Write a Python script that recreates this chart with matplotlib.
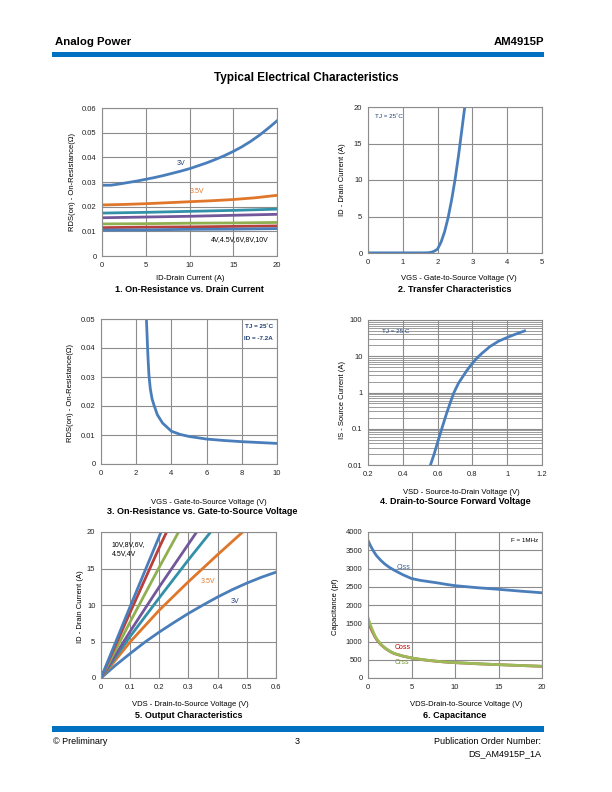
import numpy as np
import matplotlib
matplotlib.use("Agg")
import matplotlib.pyplot as plt
from matplotlib.ticker import LogLocator, NullFormatter, FixedLocator

plt.rcParams['font.family'] = ['Liberation Sans', 'DejaVu Sans']

# ---- colours (Excel 2007 style palette) ----
BLUE = '#4a7ebb'
RED = '#b8403c'
GREEN = '#8fb050'
PURPLE = '#72589a'
TEAL = '#3291a8'
ORANGE = '#e0762a'
NAVY = '#1f3f75'
GRID = '#8c8c8c'
BAR = '#0070c0'

# ---- 1. On-Resistance vs. Drain Current ----
id1 = [0, 1, 2, 3, 4, 5, 6, 7, 8, 9, 10, 11, 12, 13, 14, 15, 16, 17, 18, 19, 20]
rds_3v = [0.0287, 0.0287, 0.0292, 0.0298, 0.0304, 0.0311, 0.0318, 0.0326, 0.0335, 0.0344, 0.0354,
          0.0366, 0.0378, 0.0392, 0.0407, 0.0424, 0.0443, 0.0465, 0.0490, 0.0518, 0.0548]
id1_35 = [0, 2.5, 5, 7.5, 10, 12.5, 15, 17.5, 20]
rds_35v = [0.0207, 0.0209, 0.0212, 0.0216, 0.0220, 0.0224, 0.0229, 0.0236, 0.0246]
id1_flat = [0, 5, 10, 15, 20]
rds_4v = [0.0174, 0.0177, 0.0181, 0.0185, 0.0190]
rds_45v = [0.0155, 0.0158, 0.0161, 0.0165, 0.0169]
rds_6v = [0.0130, 0.0131, 0.0133, 0.0134, 0.0136]
rds_8v = [0.0115, 0.0117, 0.0118, 0.0120, 0.0122]
rds_10v = [0.0105, 0.0106, 0.0108, 0.0109, 0.0111]

# ---- 2. Transfer Characteristics ----
vgs2 = [0, 1.0, 1.5, 1.7, 1.8, 1.85, 1.9, 1.95, 2.0, 2.1, 2.2, 2.3, 2.4, 2.5, 2.6, 2.7, 2.78]
id2 = [0.02, 0.02, 0.02, 0.03, 0.08, 0.15, 0.25, 0.38, 0.55, 1.5, 2.9, 4.8, 7.2, 10.0, 13.3, 17.0, 20.0]

# ---- 3. On-Resistance vs. Gate-to-Source Voltage ----
vgs3 = [2.58, 2.62, 2.66, 2.72, 2.8, 2.9, 3.0, 3.2, 3.5, 4.0, 4.5, 5, 6, 7, 8, 9, 10]
rds3 = [0.050, 0.044, 0.038, 0.031, 0.026, 0.0225, 0.0205, 0.0170, 0.0141, 0.0113, 0.0102,
        0.0095, 0.0086, 0.0081, 0.0077, 0.0074, 0.0071]

# ---- 4. Drain-to-Source Forward Voltage ----
vsd4 = [0.559, 0.58, 0.6, 0.624, 0.65, 0.67, 0.694, 0.72, 0.75, 0.775, 0.8, 0.825, 0.85,
        0.9, 0.95, 1.0, 1.05, 1.1]
is4 = [0.01, 0.02, 0.042, 0.1, 0.25, 0.48, 1.0, 1.8, 3.0, 4.5, 6.4, 8.8, 11.5,
       18.4, 26, 33, 41, 50]

# ---- 5. Output Characteristics ----
vds5 = [0, 0.05, 0.1, 0.15, 0.2, 0.25, 0.3, 0.35, 0.4, 0.45, 0.5, 0.55, 0.6]
id5_3v = [0, 1.75, 3.35, 4.9, 6.3, 7.6, 8.85, 10.0, 11.1, 12.1, 13.0, 13.8, 14.5]
vds5_35 = [0, 0.1, 0.2, 0.3, 0.4, 0.486]
id5_35v = [0, 4.95, 9.3, 13.2, 16.9, 20.0]
vds5_4v = [0, 0.1, 0.2, 0.3, 0.376]
id5_4v = [0, 5.7, 11.0, 16.2, 20.0]
vds5_45v = [0, 0.1, 0.2, 0.328]
id5_45v = [0, 6.4, 12.5, 20.0]
vds5_6v = [0, 0.1, 0.2, 0.266]
id5_6v = [0, 7.7, 15.2, 20.0]
vds5_8v = [0, 0.1, 0.2, 0.225]
id5_8v = [0, 9.0, 17.9, 20.0]
vds5_10v = [0, 0.1, 0.206]
id5_10v = [0, 9.8, 20.0]

# ---- 6. Capacitance ----
vds6 = [0, 0.25, 0.5, 0.75, 1, 1.5, 2, 2.5, 3, 4, 5, 6, 7, 8, 9, 10, 12.5, 15, 17.5, 20]
ciss = [3770, 3640, 3530, 3430, 3345, 3215, 3110, 3025, 2955, 2830, 2725, 2675, 2640, 2605,
        2565, 2530, 2475, 2430, 2380, 2335]
coss = [1550, 1400, 1270, 1150, 1050, 910, 810, 730, 670, 600, 548, 510, 480, 455,
        435, 420, 390, 365, 342, 320]
crss = [1650, 1470, 1320, 1180, 1070, 920, 815, 735, 673, 603, 550, 512, 482, 457,
        437, 422, 392, 366, 343, 322]

W, H = 612, 792
fig = plt.figure(figsize=(W / 100, H / 100), dpi=100)


def ax_at(x0, y0, x1, y1):
    return fig.add_axes([x0 / W, 1 - y1 / H, (x1 - x0) / W, (y1 - y0) / H])


def ftext(x, y, s, **kw):
    fig.text(x / W, 1 - y / H, s, **kw)


def style(ax):
    ax.grid(True, color=GRID, lw=0.8)
    ax.set_axisbelow(True)
    for sp in ax.spines.values():
        sp.set_color(GRID)
        sp.set_linewidth(0.8)
    ax.tick_params(length=0, labelsize=5.5, pad=4, colors='#222222')


LW = 2.0

# chart 1
ax = ax_at(102, 108, 277, 256)
style(ax)
ax.plot(id1, rds_3v, color=BLUE, lw=LW)
ax.plot(id1_35, rds_35v, color=ORANGE, lw=LW)
ax.plot(id1_flat, rds_4v, color=TEAL, lw=LW)
ax.plot(id1_flat, rds_45v, color=PURPLE, lw=LW)
ax.plot(id1_flat, rds_6v, color=GREEN, lw=LW)
ax.plot(id1_flat, rds_8v, color=RED, lw=LW)
ax.plot(id1_flat, rds_10v, color=BLUE, lw=LW)
ax.set_xlim(0, 20)
ax.set_ylim(0, 0.06)
ax.set_xticks([0, 5, 10, 15, 20])
ax.set_yticks([0, 0.01, 0.02, 0.03, 0.04, 0.05, 0.06])
ax.set_yticklabels(['0', '0.01', '0.02', '0.03', '0.04', '0.05', '0.06'])
ax.text(9.0, 0.0374, '3V', color=NAVY, fontsize=5, ha='center', va='center')
ax.text(10.9, 0.026, '3.5V', color=ORANGE, fontsize=5, ha='center', va='center')
ax.text(15.8, 0.0068, '4V,4.5V,6V,8V,10V', color='black', fontsize=5, ha='center', va='center')
ftext(72, 182, 'RDS(on) - On-Resistance(Ω)', rotation=90, fontsize=5.5, ha='center', va='center')
ftext(190, 278, 'ID-Drain Current (A)', fontsize=5.5, ha='center', va='center')
ftext(189, 290, '1. On-Resistance vs. Drain Current', fontsize=6.5, weight='bold', ha='center', va='center')

# chart 2
ax = ax_at(368, 107, 542, 253)
style(ax)
ax.plot(vgs2, id2, color=BLUE, lw=LW)
ax.set_xlim(0, 5)
ax.set_ylim(0, 20)
ax.set_xticks([0, 1, 2, 3, 4, 5])
ax.set_yticks([0, 5, 10, 15, 20])
ax.text(0.21, 18.7, 'TJ = 25˚C', color=NAVY, fontsize=4.5, va='center')
ftext(342, 180, 'ID - Drain Current (A)', rotation=90, fontsize=5.5, ha='center', va='center')
ftext(459, 279, 'VGS - Gate-to-Source Voltage (V)', fontsize=5.5, ha='center', va='center')
ftext(455, 290, '2. Transfer Characteristics', fontsize=6.5, weight='bold', ha='center', va='center')

# chart 3
ax = ax_at(101, 319, 277, 464)
style(ax)
ax.plot(vgs3, rds3, color=BLUE, lw=LW)
ax.set_xlim(0, 10)
ax.set_ylim(0, 0.05)
ax.set_xticks([0, 2, 4, 6, 8, 10])
ax.set_yticks([0, 0.01, 0.02, 0.03, 0.04, 0.05])
ax.set_yticklabels(['0', '0.01', '0.02', '0.03', '0.04', '0.05'])
ax.text(0.978, 0.945, 'TJ = 25˚C', color=NAVY, fontsize=4.5, weight='bold',
        ha='right', va='center', transform=ax.transAxes)
ax.text(0.978, 0.867, 'ID = -7.2A', color=NAVY, fontsize=4.5, weight='bold',
        ha='right', va='center', transform=ax.transAxes)
ftext(71, 393, 'RDS(on) - On-Resistance(Ω)', rotation=90, fontsize=5.5, ha='center', va='center')
ftext(209, 502, 'VGS - Gate-to-Source Voltage (V)', fontsize=5.5, ha='center', va='center')
ftext(202, 511, '3. On-Resistance vs. Gate-to-Source Voltage', fontsize=6.5, weight='bold',
      ha='center', va='center')

# chart 4
ax = ax_at(368, 320, 542, 465)
ax.set_yscale('log')
style(ax)
ax.yaxis.set_minor_locator(LogLocator(base=10, subs=np.arange(2, 10)))
ax.yaxis.set_minor_formatter(NullFormatter())
ax.grid(True, which='minor', axis='y', color=GRID, lw=0.6)
ax.tick_params(which='minor', length=0)
ax.plot(vsd4, is4, color=BLUE, lw=LW)
ax.set_xlim(0.2, 1.2)
ax.set_ylim(0.01, 100)
ax.xaxis.set_major_locator(FixedLocator([0.2, 0.4, 0.6, 0.8, 1.0, 1.2]))
ax.set_xticklabels(['0.2', '0.4', '0.6', '0.8', '1', '1.2'])
ax.set_yticks([0.01, 0.1, 1, 10, 100])
ax.set_yticklabels(['0.01', '0.1', '1', '10', '100'])
ax.text(0.28, 47, 'TJ = 25 C', color=NAVY, fontsize=4.5, va='center')
ftext(342, 400, 'IS - Source Current (A)', rotation=90, fontsize=5.5, ha='center', va='center')
ftext(461, 492, 'VSD - Source-to-Drain Voltage (V)', fontsize=5.5, ha='center', va='center')
ftext(455, 502, '4. Drain-to-Source Forward Voltage', fontsize=6.5, weight='bold', ha='center', va='center')

# chart 5
ax = ax_at(101, 532, 276, 678)
style(ax)
ax.plot(vds5, id5_3v, color=BLUE, lw=LW)
ax.plot(vds5_35, id5_35v, color=ORANGE, lw=LW)
ax.plot(vds5_4v, id5_4v, color=TEAL, lw=LW)
ax.plot(vds5_45v, id5_45v, color=PURPLE, lw=LW)
ax.plot(vds5_6v, id5_6v, color=GREEN, lw=LW)
ax.plot(vds5_8v, id5_8v, color=RED, lw=LW)
ax.plot(vds5_10v, id5_10v, color=BLUE, lw=LW)
ax.set_xlim(0, 0.6)
ax.set_ylim(0, 20)
ax.set_xticks([0, 0.1, 0.2, 0.3, 0.4, 0.5, 0.6])
ax.set_xticklabels(['0', '0.1', '0.2', '0.3', '0.4', '0.5', '0.6'])
ax.set_yticks([0, 5, 10, 15, 20])
ax.text(0.037, 18.3, '10V,8V,6V,', color='black', fontsize=5, va='center')
ax.text(0.037, 17.0, '4.5V,4V', color='black', fontsize=5, va='center')
ax.text(0.366, 13.2, '3.5V', color=ORANGE, fontsize=5, ha='center', va='center')
ax.text(0.46, 10.5, '3V', color=NAVY, fontsize=5, ha='center', va='center')
ftext(81, 607, 'ID - Drain Current (A)', rotation=90, fontsize=5.5, ha='center', va='center')
ftext(190, 704, 'VDS - Drain-to-Source Voltage (V)', fontsize=5.5, ha='center', va='center')
ftext(189, 715, '5. Output Characteristics', fontsize=6.5, weight='bold', ha='center', va='center')

# chart 6
ax = ax_at(368, 532, 542, 678)
style(ax)
ax.plot(vds6, ciss, color=BLUE, lw=LW)
ax.plot(vds6, coss, color='#c0504d', lw=LW)
ax.plot(vds6, crss, color='#9bbb59', lw=LW)
ax.set_xlim(0, 20)
ax.set_ylim(0, 4000)
ax.set_xticks([0, 5, 10, 15, 20])
ax.set_yticks(range(0, 4001, 500))
ax.text(4.08, 3014, 'Ciss', color='#3a6aa8', fontsize=5, ha='center', va='center')
ax.text(4.0, 822, 'Coss', color='#c00000', fontsize=5, ha='center', va='center')
ax.text(3.9, 420, 'Crss', color='#7a9a3a', fontsize=5, ha='center', va='center')
ax.text(0.98, 0.94, 'F = 1MHz', color='black', fontsize=4.5, ha='right', va='center',
        transform=ax.transAxes)
ftext(335, 607, 'Capacitance (pf)', rotation=90, fontsize=5.5, ha='center', va='center')
ftext(466, 704, 'VDS-Drain-to-Source Voltage (V)', fontsize=5.5, ha='center', va='center')
ftext(455, 715, '6. Capacitance', fontsize=6.5, weight='bold', ha='center', va='center')

# page header / footer
ftext(55, 42, 'Analog Power', fontsize=8.2, weight='bold', ha='left', va='center')
ftext(544, 42, 'AM4915P', fontsize=8.2, weight='bold', ha='right', va='center')
fig.add_artist(plt.Rectangle((52 / W, 1 - 56.7 / H), (544 - 52) / W, 5 / H,
                             transform=fig.transFigure, color=BAR, lw=0))
ftext(306, 78, 'Typical Electrical Characteristics', fontsize=8.5, weight='bold', ha='center', va='center')
fig.add_artist(plt.Rectangle((52 / W, 1 - 731.7 / H), (544 - 52) / W, 5.7 / H,
                             transform=fig.transFigure, color=BAR, lw=0))
ftext(53, 741, '© Preliminary', fontsize=6.5, ha='left', va='center')
ftext(297, 741, '3', fontsize=6.5, ha='center', va='center')
ftext(541, 741, 'Publication Order Number:', fontsize=6.5, ha='right', va='center')
ftext(541, 754, 'DS_AM4915P_1A', fontsize=6.5, ha='right', va='center')

fig.savefig('out.png', dpi=100)
